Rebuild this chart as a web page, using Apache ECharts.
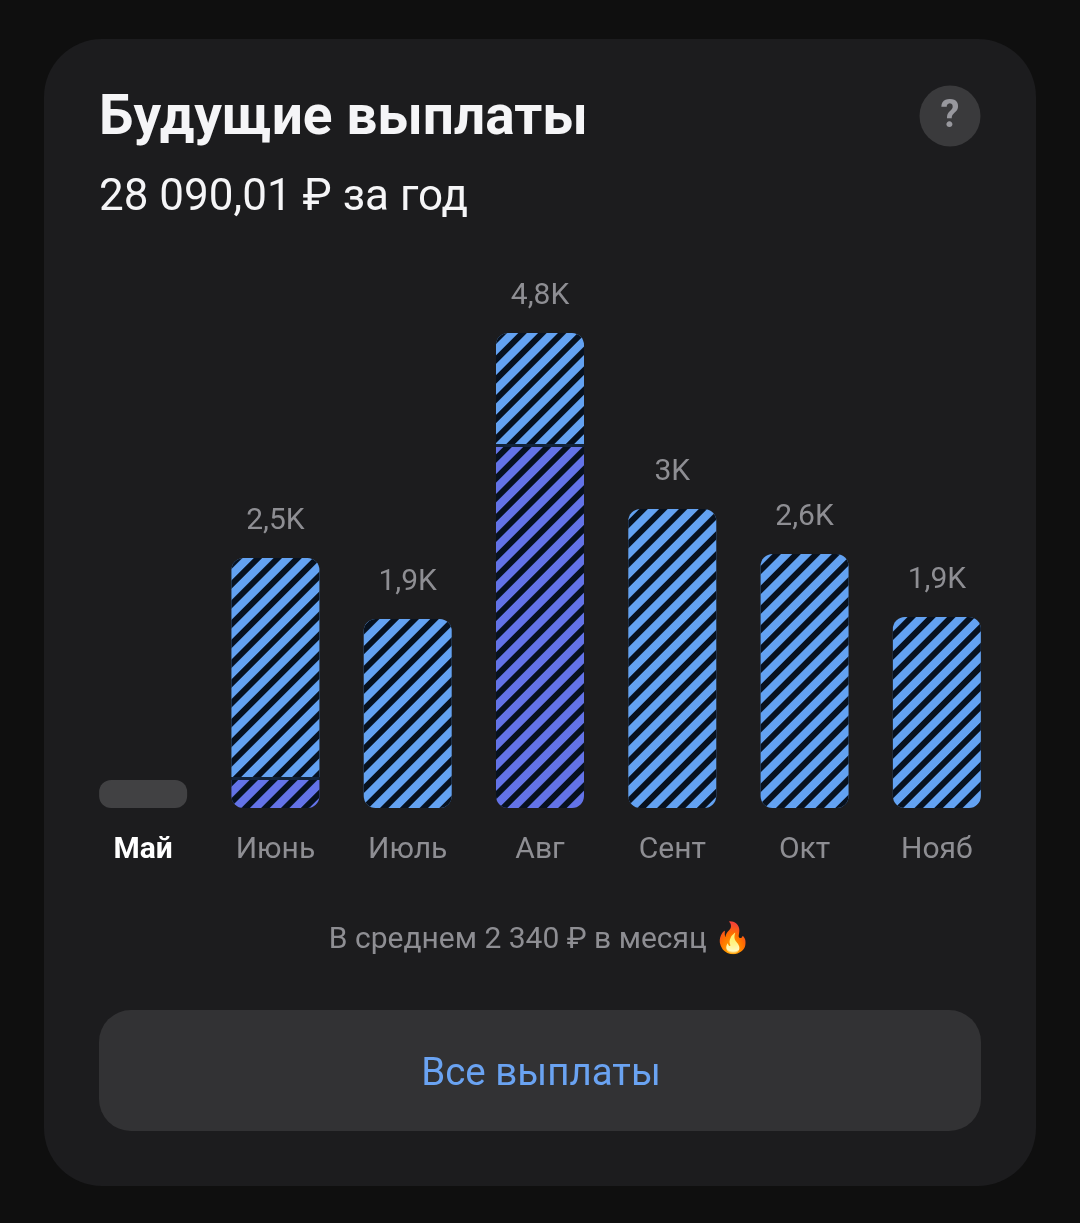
<!DOCTYPE html>
<html><head><meta charset="utf-8">
<style>html,body{margin:0;padding:0;background:#0f0f0f}#c{width:1080px;height:1223px}</style>
<script src="https://cdn.jsdelivr.net/npm/echarts@6/dist/echarts.min.js"></script>
</head><body><div id="c"></div>
<script>
const months = ['Май','Июнь','Июль','Авг','Сент','Окт','Нояб'];
const placeholder = [0.28,null,null,null,null,null,null];
const purple = [null,0.28,null,3.61,null,null,null];
const separator = [null,0.03,null,0.03,null,null,null];
const blue = [null,2.19,1.89,1.11,2.99,2.54,1.91];
const valueLabels = ['','2,5K','1,9K','4,8K','3K','2,6K','1,9K'];
const titleText = 'Будущие выплаты';
const totalText = '28 090,01 ₽ за год';
const averageText = 'В среднем 2 340 ₽ в месяц 🔥';
const buttonText = 'Все выплаты';

const FONT = 'Roboto, sans-serif';
const STRIPE = '#07111f';
const R = 12;
const decal = {symbol:'rect',symbolSize:1,color:STRIPE,dashArrayX:[1,0],dashArrayY:[5.5,7.5],rotation:-Math.PI/4};

const chart = echarts.init(document.getElementById('c'),null,{renderer:'canvas',width:1080,height:1223});
chart.setOption({
  animation:false,
  backgroundColor:'#0f0f0f',
  grid:{left:77,width:926,top:308,height:500},
  xAxis:{type:'category',data:months.map((m,i)=>i===0?{value:m,textStyle:{color:'#ffffff',fontWeight:'bold'}}:m),
    axisLine:{show:false},axisTick:{show:false},
    axisLabel:{color:'#8e8e93',fontSize:30,fontFamily:FONT,margin:27,interval:0}},
  yAxis:{type:'value',min:0,max:5,show:false},
  graphic:{elements:[
    {type:'rect',z:-10,shape:{x:44,y:39,width:992,height:1147,r:58},style:{fill:'#1c1c1e'}},
    {type:'text',z:5,x:99,y:120,style:{text:titleText,fill:'#f5f5f7',font:'bold 55px '+FONT,textVerticalAlign:'middle'}},
    {type:'text',z:5,x:99,y:199,style:{text:totalText,fill:'#f5f5f7',font:'44px '+FONT,textVerticalAlign:'middle'}},
    {type:'circle',z:5,shape:{cx:950,cy:116,r:30.5},style:{fill:'#3a3a3c'}},
    {type:'text',z:6,x:950,y:117,style:{text:'?',fill:'#98989e',font:'bold 38px '+FONT,textAlign:'center',textVerticalAlign:'middle'}},
    {type:'text',z:5,x:540,y:940,style:{text:averageText,fill:'#8e8e93',font:'30px '+FONT,textAlign:'center',textVerticalAlign:'middle'}},
    {type:'rect',z:5,shape:{x:99,y:1010,width:882,height:121,r:32},style:{fill:'#323234'}},
    {type:'text',z:6,x:541,y:1075,style:{text:buttonText,fill:'#6aa3f2',font:'38.5px '+FONT,textAlign:'center',textVerticalAlign:'middle'}}
  ]},
  series:[
    {name:'placeholder',type:'bar',stack:'a',barWidth:88,data:placeholder,
      itemStyle:{color:'#414143',borderRadius:R}},
    {name:'purple',type:'bar',stack:'a',barWidth:88,data:purple,
      itemStyle:{color:'#6373e8',borderRadius:[0,0,R,R],decal}},
    {name:'separator',type:'bar',stack:'a',barWidth:88,data:separator,itemStyle:{color:'#12233a'}},
    {name:'blue',type:'bar',stack:'a',barWidth:88,
      data:blue.map((v,i)=>({value:v,itemStyle:{borderRadius:purple[i]?[R,R,0,0]:R}})),
      itemStyle:{color:'#63a2f2',decal},
      label:{show:true,position:'top',distance:22,color:'#8e8e93',fontSize:30,fontFamily:FONT,
        formatter:p=>valueLabels[p.dataIndex]}}
  ]
});
</script></body></html>
